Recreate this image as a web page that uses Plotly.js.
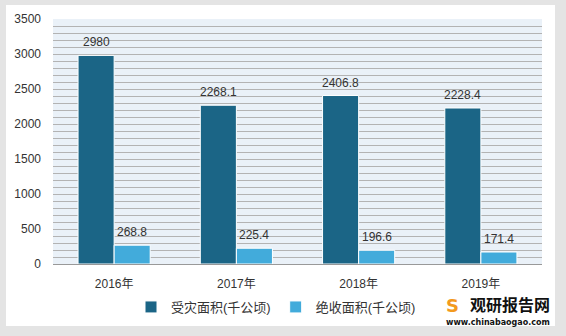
<!DOCTYPE html>
<html>
<head>
<meta charset="utf-8">
<script src="https://cdn.plot.ly/plotly-3.0.1.min.js"></script>
<style>html,body{margin:0;padding:0;background:#e4e4e4;}#chart{width:566px;height:336px;}</style>
</head>
<body>
<div id="chart"></div>
<script>
const categories = ["2016年", "2017年", "2018年", "2019年"];
const affectedArea = [2980, 2268.1, 2406.8, 2228.4];
const lostArea = [268.8, 225.4, 196.6, 171.4];
const seriesNames = ["受灾面积(千公顷)", "绝收面积(千公顷)"];
const yTicks = [0, 500, 1000, 1500, 2000, 2500, 3000, 3500];

const FONT = "Liberation Sans, Arial, Noto Sans CJK SC, sans-serif";
const W = 566, H = 336, ML = 53, MR = 24, MT = 19, MB = 72;
const pw = W - ML - MR, ph = H - MT - MB;
const px = v => (v - ML) / pw;
const py = v => (H - MB - v) / ph;

const traces = [
  {type: "bar", name: seriesNames[0], x: categories, y: affectedArea, offsetgroup: "a",
   marker: {color: "#1b6586", line: {color: "#ffffff", width: 1}}},
  {type: "bar", name: seriesNames[1], x: categories, y: lostArea, offsetgroup: "b",
   marker: {color: "#42abdb", line: {color: "#ffffff", width: 1}}}
];

// value labels placed through the axes (category + value), offset to each bar of the group
const labelAnns = [];
categories.forEach((c, i) => {
  labelAnns.push({x: i, y: affectedArea[i], xref: "x", yref: "y", text: String(affectedArea[i]),
    showarrow: false, yanchor: "bottom", yshift: 4, xshift: -18,
    font: {family: FONT, size: 12, color: "#333333"}});
  labelAnns.push({x: i, y: lostArea[i], xref: "x", yref: "y", text: String(lostArea[i]),
    showarrow: false, yanchor: "bottom", yshift: 4, xshift: 18,
    font: {family: FONT, size: 12, color: "#333333"}});
});

const layout = {
  width: W, height: H,
  margin: {l: ML, r: MR, t: MT, b: MB, pad: 0},
  paper_bgcolor: "#e4e4e4",
  plot_bgcolor: "rgba(0,0,0,0)",
  font: {family: FONT, size: 12, color: "#333333"},
  barmode: "group", bargap: 0.41, bargroupgap: 0,
  showlegend: true,
  legend: {orientation: "h", x: px(276), xanchor: "center", y: py(307), yanchor: "middle",
           bgcolor: "#ffffff", font: {family: FONT, size: 13, color: "#333333"},
           itemwidth: 30, traceorder: "normal"},
  xaxis: {type: "category", showgrid: false, showline: true, linecolor: "#999999", linewidth: 1,
          ticks: "", ticklabelstandoff: 9, tickfont: {family: FONT, size: 12, color: "#333333"},
          fixedrange: true},
  yaxis: {range: [0, 3500], tickvals: yTicks, ticktext: yTicks.map(String), showgrid: true,
          gridcolor: "#b3b3b3", gridwidth: 1, zeroline: false, showline: false, ticks: "",
          ticklabelstandoff: 11, tickfont: {family: FONT, size: 12, color: "#333333"},
          minor: {tickvals: Array.from({length: 36}, (_, i) => i * 100), showgrid: true, gridcolor: "#b3b3b3", gridwidth: 1},
          fixedrange: true},
  shapes: [
    {type: "rect", xref: "paper", yref: "paper", x0: px(6), x1: px(555), y0: py(326), y1: py(5),
     fillcolor: "#ffffff", line: {width: 0}, layer: "below"},
    {type: "rect", xref: "paper", yref: "paper", x0: 0, x1: 1, y0: 0, y1: 1,
     fillcolor: "#eaf1f8", line: {width: 0}, layer: "below"}
  ],
  annotations: labelAnns.concat([
    {xref: "paper", yref: "paper", x: px(552), y: py(304), xanchor: "right", yanchor: "middle",
     text: "<b>观研报告网</b>", showarrow: false,
     font: {family: "Noto Sans CJK SC, sans-serif", size: 16, color: "#111111"}},
    {xref: "paper", yref: "paper", x: px(552), y: py(322), xanchor: "right", yanchor: "middle",
     text: "<b>www.chinabaogao.com</b>", showarrow: false,
     font: {family: "DejaVu Sans, sans-serif", size: 8, color: "#111111"}},
    {xref: "paper", yref: "paper", x: px(452), y: py(305), xanchor: "center", yanchor: "middle",
     text: "<b>S</b>", showarrow: false,
     font: {family: "DejaVu Sans, sans-serif", size: 18, color: "#f39a1e"}}
  ])
};

Plotly.newPlot("chart", traces, layout, {displayModeBar: false, staticPlot: true});
</script>
</body>
</html>
